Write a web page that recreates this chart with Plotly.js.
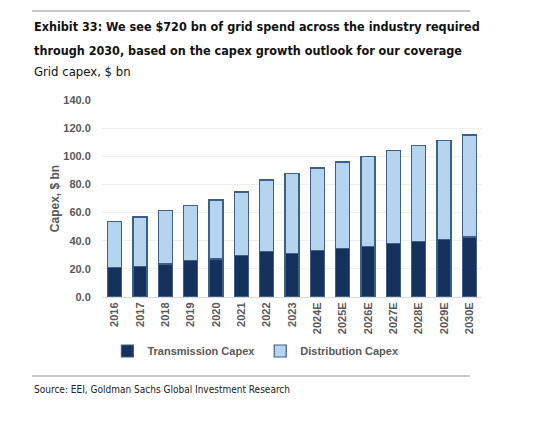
<!DOCTYPE html>
<html>
<head>
<meta charset="utf-8">
<script src="https://cdn.plot.ly/plotly-3.0.1.min.js"></script>
<style>
  html, body { margin: 0; padding: 0; background: #fff; }
  #chart { width: 550px; height: 432px; }
</style>
</head>
<body>
<div id="chart"></div>
<script>
// years on the x axis
const years = ['2016', '2017', '2018', '2019', '2020', '2021', '2022', '2023',
  '2024E', '2025E', '2026E', '2027E', '2028E', '2029E', '2030E'];

// transmission capex, $ bn
const transmission = [20.9, 21.4, 23.5, 26.2, 27.0, 29.3, 32.1, 31.2,
  32.8, 34.3, 36.1, 37.9, 39.5, 41.0, 42.6];

// distribution capex, $ bn
const distribution = [32.8, 35.4, 37.8, 39.0, 42.0, 45.3, 51.0, 56.8,
  58.9, 61.6, 63.9, 66.4, 68.1, 70.3, 72.5];

const yTicks = [0, 20, 40, 60, 80, 100, 120, 140];

const titleLines = [
  'Exhibit 33: We see $720 bn of grid spend across the industry required',
  'through 2030, based on the capex growth outlook for our coverage'
];

const outline = {color: '#3f5f86', width: 1.2};

const traces = [
  {
    name: 'Transmission Capex',
    type: 'bar',
    x: years,
    y: transmission,
    marker: {color: '#14325b', line: outline}
  },
  {
    name: 'Distribution Capex',
    type: 'bar',
    x: years,
    y: distribution,
    marker: {color: '#b4d4f0', line: outline}
  }
];

const grey = '#595959';
const narrow = 'DejaVu Sans Condensed, Liberation Sans, sans-serif';

// helper for the text blocks above and below the plot
function note(text, y, size, bold, color) {
  const font = {family: narrow, size: size, color: color};
  if (bold) font.weight = 'bold';
  return {
    xref: 'paper', yref: 'paper', x: -0.184, y: y, xanchor: 'left', yanchor: 'middle',
    align: 'left', showarrow: false, text: text, font: font
  };
}

const layout = {
  width: 550,
  height: 432,
  margin: {l: 102, r: 68, t: 100, b: 135},
  paper_bgcolor: '#fff',
  plot_bgcolor: '#fff',
  barmode: 'stack',
  bargap: 0.45,
  font: {family: 'Liberation Sans, Arial, sans-serif', size: 11, color: grey},
  showlegend: true,
  legend: {
    orientation: 'h',
    traceorder: 'normal',
    x: 0.405, xanchor: 'center',
    y: -0.274, yanchor: 'middle',
    font: {size: 11, color: grey, weight: 'bold'},
    itemwidth: 30,
    tracegroupgap: 0
  },
  xaxis: {
    type: 'category',
    tickangle: -90,
    tickfont: {size: 11, color: grey, weight: 'bold'},
    showline: true,
    linecolor: '#d9d9d9',
    linewidth: 1,
    ticks: '',
    showgrid: false
  },
  yaxis: {
    range: [0, 140],
    tickvals: yTicks,
    ticktext: yTicks.map(v => v.toFixed(1)),
    tickfont: {size: 11, color: grey, weight: 'bold'},
    showgrid: true,
    gridcolor: '#eeeeee',
    gridwidth: 1,
    zeroline: false,
    showline: false,
    ticks: 'outside',
    ticklen: 8,
    tickcolor: 'rgba(0,0,0,0)',
    title: {text: 'Capex, $ bn', font: {size: 12, color: grey, weight: 'bold'}, standoff: 1}
  },
  shapes: [
    {type: 'line', xref: 'paper', yref: 'paper', x0: -0.184, x1: 0.968, y0: 1.452, y1: 1.452,
      line: {color: '#c8c8c8', width: 2}},
    {type: 'line', xref: 'paper', yref: 'paper', x0: -0.184, x1: 0.968, y0: -0.401, y1: -0.401,
      line: {color: '#c8c8c8', width: 2}}
  ],
  annotations: [
    note(titleLines[0], 1.371, 12.5, true, '#111'),
    note(titleLines[1], 1.249, 12.5, true, '#111'),
    note('Grid capex, $ bn', 1.147, 13, false, '#111'),
    note('Source: EEI, Goldman Sachs Global Investment Research', -0.47, 10, false, '#222')
  ]
};

Plotly.newPlot('chart', traces, layout, {displayModeBar: false, staticPlot: true});
</script>
</body>
</html>
